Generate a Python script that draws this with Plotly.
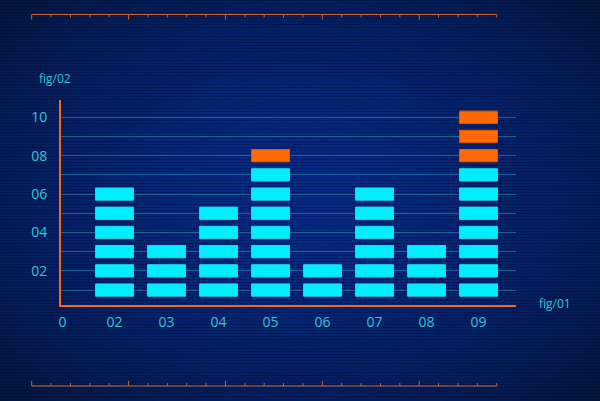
import plotly.graph_objects as go

# ---- data ----
categories = ["02", "03", "04", "05", "06", "07", "08", "09"]
segments_total = [6, 3, 5, 8, 2, 6, 3, 10]
segments_orange = [0, 0, 0, 1, 0, 0, 0, 3]
y_tick_vals = [2, 4, 6, 8, 10]
y_tick_text = ["02", "04", "06", "08", "10"]
origin_label = "0"
x_title = "fig/01"
y_title = "fig/02"

CYAN = "#00eefc"
ORANGE = "#ff6a06"
AXIS = "#f06a1e"
TXT = "#2cc8d6"
W, H = 600, 401
L, R, T, B = 61, 84, 100, 96
PW, PH = W - L - R, H - T - B

def px(xp):
    return (xp - L) / PW

def py(yp):
    return (H - B - yp) / PH

# segment traces
seg_h = 0.64
cx, cb, ox, ob = [], [], [], []
for i, (n, no) in enumerate(zip(segments_total, segments_orange)):
    for k in range(1, n + 1):
        if k > n - no:
            ox.append(i + 1); ob.append(k - seg_h / 2)
        else:
            cx.append(i + 1); cb.append(k - seg_h / 2)

fig = go.Figure()
fig.add_trace(go.Bar(x=cx, y=[seg_h] * len(cx), base=cb, width=0.73,
                     marker=dict(color=CYAN, line=dict(color="#22d8ec", width=1)),
                     hoverinfo="skip", showlegend=False))
fig.add_trace(go.Bar(x=ox, y=[seg_h] * len(ox), base=ob, width=0.73,
                     marker=dict(color=ORANGE, line=dict(color="#e85a00", width=1)),
                     hoverinfo="skip", showlegend=False))

shapes = []
# radial glow
N = 24
for j in range(N):
    f = 1 - j / N
    rx, ry = 430 * f, 300 * f
    c_x, c_y = 300, 200
    shapes.append(dict(type="circle", xref="paper", yref="paper", layer="below",
                       x0=px(c_x - rx), x1=px(c_x + rx), y0=py(c_y + ry), y1=py(c_y - ry),
                       fillcolor="#1a44a8", opacity=0.05, line=dict(width=0)))
# scanlines
for yy in range(0, H, 3):
    shapes.append(dict(type="line", xref="paper", yref="paper", layer="below",
                       x0=px(0), x1=px(W), y0=py(yy + 0.5), y1=py(yy + 0.5),
                       line=dict(color="rgba(0,5,25,0.25)", width=1)))
# rulers
rx0, rx1 = 31.7, 496.7
for yline, sign in ((14.5, 1), (386, -1)):
    shapes.append(dict(type="line", xref="paper", yref="paper",
                       x0=px(rx0), x1=px(rx1), y0=py(yline), y1=py(yline),
                       line=dict(color="#c8683a", width=1)))
    for t in range(25):
        xx = rx0 + t * (rx1 - rx0) / 24
        ln = 5 if t % 5 == 0 else 3
        shapes.append(dict(type="line", xref="paper", yref="paper",
                           x0=px(xx), x1=px(xx), y0=py(yline), y1=py(yline + sign * ln),
                           line=dict(color="#c8683a", width=1)))

fig.update_layout(
    width=W, height=H,
    margin=dict(l=L, r=R, t=T, b=B),
    paper_bgcolor="#051533",
    plot_bgcolor="rgba(0,0,0,0)",
    barmode="overlay",
    shapes=shapes,
    font=dict(family="Open Sans", color=TXT, size=14),
    xaxis=dict(range=[-0.03, 8.72], tickvals=list(range(0, len(categories) + 1)),
               ticktext=[origin_label] + categories, showgrid=False, zeroline=False,
               showline=True, linecolor=AXIS, linewidth=2, ticks="",
               ticklabelstandoff=3, tickfont=dict(size=14, color=TXT)),
    yaxis=dict(range=[0.22, 10.9], tickvals=y_tick_vals, ticktext=y_tick_text,
               showgrid=True, gridcolor="rgba(50,150,190,0.55)", gridwidth=1,
               minor=dict(tickvals=[1, 3, 5, 7, 9], showgrid=True,
                          gridcolor="rgba(50,150,190,0.55)", gridwidth=1),
               zeroline=False, showline=True, linecolor=AXIS, linewidth=2, ticks="",
               ticklabelstandoff=9, tickfont=dict(size=14, color=TXT)),
    annotations=[
        dict(text=y_title, xref="paper", yref="paper", x=px(37), y=py(79),
             xanchor="left", yanchor="middle", showarrow=False,
             font=dict(size=12, color=TXT)),
        dict(text=x_title, xref="paper", yref="paper", x=px(537), y=py(303),
             xanchor="left", yanchor="middle", showarrow=False,
             font=dict(size=12, color=TXT)),
    ],
)

fig.write_html("out.html", config={"displayModeBar": False},
               post_script="document.body.style.margin='0';document.body.style.overflow='hidden';")
